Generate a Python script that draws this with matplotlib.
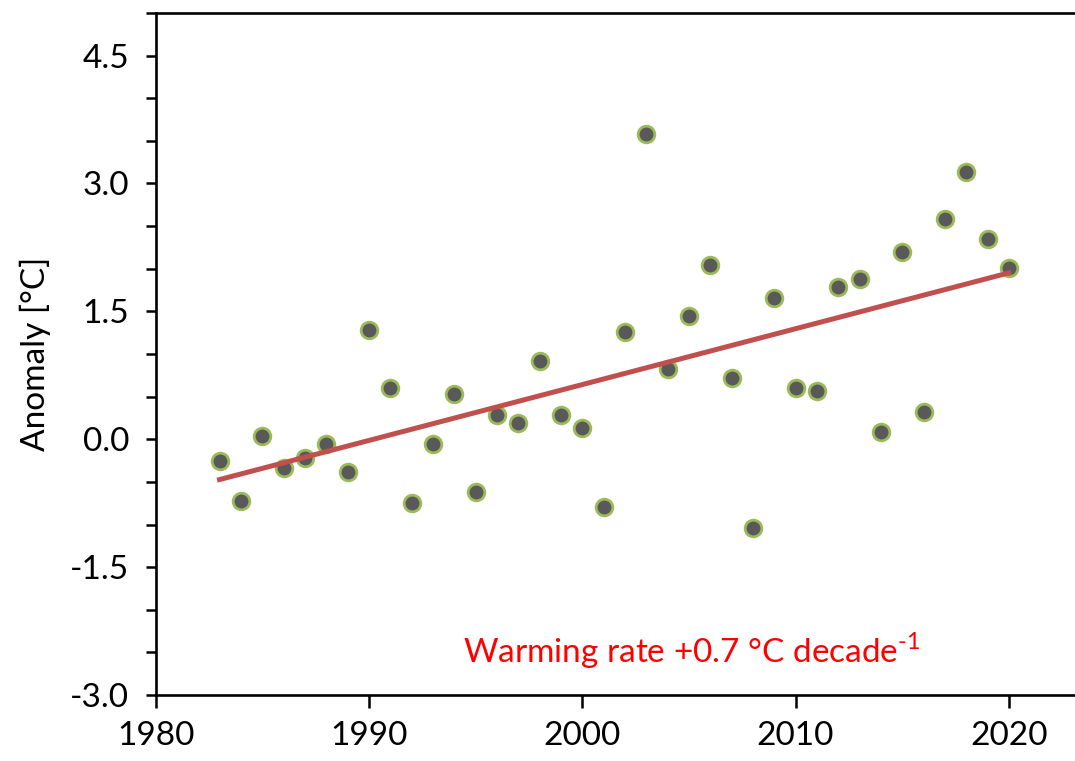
import numpy as np
import matplotlib.pyplot as plt

plt.rcParams['font.family'] = ['Lato', 'DejaVu Sans']
plt.rcParams['mathtext.fontset'] = 'custom'
plt.rcParams['mathtext.rm'] = 'Lato'

# yearly anomalies
years = np.arange(1983, 2021)
anomaly = [-0.25, -0.72, 0.04, -0.34, -0.22, -0.06, -0.38, 1.28, 0.60, -0.75,
           -0.06, 0.53, -0.62, 0.29, 0.19, 0.92, 0.29, 0.13, -0.79, 1.26,
           3.58, 0.82, 1.45, 2.04, 0.72, -1.04, 1.66, 0.60, 0.56, 1.79,
           1.88, 0.09, 2.20, 0.32, 2.58, 3.14, 2.35, 2.01]

# linear trend
coef = np.polyfit(years, anomaly, 1)
trend_x = np.array([years[0], years[-1]])
trend_y = np.polyval(coef, trend_x)

fig = plt.figure(figsize=(10.75, 7.61), dpi=100)
ax = fig.add_axes([0.1447, 0.0867, 0.8553, 0.8963])

ax.plot(years, anomaly, 'o', ms=12, mfc='#595959', mec='#9BBB59', mew=2.0, zorder=3)
ax.plot(trend_x, trend_y, '-', color='#C0504D', lw=3.6, zorder=4)

ax.set_xlim(1980, 2023.1)
ax.set_ylim(-3.0, 5.0)

ax.set_xticks(np.arange(1980, 2021, 10))
yt = np.arange(-3.0, 5.01, 0.5)
ax.set_yticks(yt)
ax.set_yticklabels([f'{v:.1f}' if abs(v / 1.5 - round(v / 1.5)) < 1e-6 and v < 5 else '' for v in yt])

ax.tick_params(axis='x', length=9, width=1.8, labelsize=24, pad=10)
ax.tick_params(axis='y', length=7, width=1.8, labelsize=24, pad=12)
for s in ['left', 'bottom', 'top']:
    ax.spines[s].set_linewidth(1.9)
ax.spines['right'].set_visible(False)

ax.set_ylabel('Anomaly [°C]', fontsize=24, labelpad=14)

ax.text(2005.15, -2.48, r'Warming rate +0.7 °C decade$^{\text{-1}}$', color='red',
        fontsize=24, ha='center', va='center')

fig.savefig('out.png', dpi=100)
